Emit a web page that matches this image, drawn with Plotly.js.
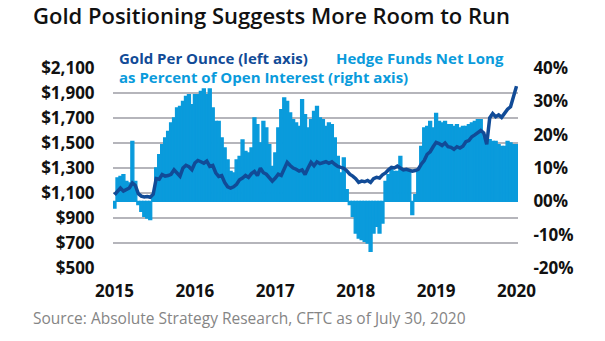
<!DOCTYPE html>
<html>
<head>
<meta charset="utf-8">
<script src="https://cdn.plot.ly/plotly-3.0.1.min.js"></script>
<style>
  html, body { margin: 0; padding: 0; background: #ffffff; }
  #chart { width: 605px; height: 341px; }
</style>
</head>
<body>
<div id="chart"></div>
<script>
// Hedge funds net long as % of open interest (right axis)
const hedgeFundsNetLongPct = [
  -2, 7, 7.5, 8, 6, 5.5, 18, 6, -1, -3,
  -4.5, -5, -5.5, 2, 10, 14, 17, 19, 21, 23.5,
  25, 28, 28.5, 30, 31.5, 32, 29, 32, 32, 33,
  33.7, 32, 33.7, 28, 24, 24, 19, 16, 12.4, 9,
  8.5, 12.4, 13.5, 18.4, 15, 14.5, 16, 25, 23, 17.5,
  24, 22, 17, 10.5, 14.5, 22, 27.5, 31, 30, 26.5,
  24.5, 23.5, 22.5, 30.5, 26, 22, 24.5, 27, 28.5, 25,
  24.5, 22.5, 23.5, 23, 19, 13.5, 8.5, 13, 3.5, -1,
  -4.5, -9.5, -11, -11.5, -12, -12.5, -15, -9.5, -7.5, -9.5,
  -6.5, 6, 8, 9.5, 9, 9, 13.5, 9.5, 9, 9,
  -4, 2, 9, 16.5, 22, 22.5, 24, 22, 26.4, 24,
  23.5, 24, 23, 23, 22.5, 23, 22, 22.5, 22.5, 23,
  23.5, 24, 24.5, 24.5, 19, 18, 18.5, 18, 18, 17,
  16.5, 16.5, 18, 17.5, 17, 17
];

// Gold price per ounce, USD (left axis)
const goldPerOunce = [
  1086, 1113, 1140, 1115, 1125, 1140, 1180, 1160, 1095, 1075,
  1068, 1072, 1066, 1090, 1215, 1210, 1248, 1235, 1240, 1250,
  1285, 1262, 1235, 1300, 1322, 1310, 1286, 1340, 1360, 1350,
  1338, 1355, 1313, 1320, 1262, 1233, 1240, 1185, 1150, 1140,
  1150, 1170, 1205, 1220, 1240, 1225, 1255, 1272, 1240, 1298,
  1262, 1250, 1225, 1195, 1220, 1250, 1240, 1300, 1345, 1320,
  1300, 1290, 1275, 1285, 1248, 1300, 1345, 1318, 1350, 1335,
  1340, 1350, 1338, 1350, 1330, 1313, 1305, 1298, 1278, 1250,
  1235, 1215, 1185, 1195, 1190, 1200, 1185, 1215, 1225, 1220,
  1245, 1260, 1285, 1305, 1300, 1315, 1300, 1285, 1290, 1280,
  1275, 1280, 1290, 1330, 1360, 1410, 1430, 1470, 1505, 1495,
  1480, 1500, 1470, 1465, 1450, 1470, 1460, 1475, 1510, 1520,
  1550, 1565, 1580, 1600, 1580, 1490, 1700, 1735, 1710, 1725,
  1705, 1740, 1770, 1790, 1870, 1955
];

const yearLabels = ['2015', '2016', '2017', '2018', '2019', '2020'];
const yearValues = [2015, 2016, 2017, 2018, 2019, 2020];
const pctTickValues = [-20, -10, 0, 10, 20, 30, 40];
const pctTickLabels = ['-20%', '-10%', '00%', '10%', '20%', '30%', '40%'];

const N = goldPerOunce.length;
const step = (yearValues[yearValues.length - 1] - yearValues[0]) / (N - 1);
const xPos = goldPerOunce.map((_, i) => yearValues[0] + i * step);

const LIGHT = '#0a9bdc';
const DARK = '#114b97';
const tickFont = { family: 'Open Sans, sans-serif', size: 17, color: '#111111', weight: 700 };

const traces = [
  {
    type: 'bar',
    x: xPos,
    y: hedgeFundsNetLongPct,
    yaxis: 'y',
    marker: { color: LIGHT, line: { color: LIGHT, width: 1.3 } },
    width: step,
    hoverinfo: 'skip',
    showlegend: false
  },
  {
    type: 'scatter',
    mode: 'lines',
    x: xPos,
    y: goldPerOunce,
    yaxis: 'y2',
    line: { color: DARK, width: 3.5 },
    hoverinfo: 'skip',
    showlegend: false
  }
];

const layout = {
  width: 605,
  height: 341,
  margin: { l: 113, r: 87, t: 68, b: 73 },
  paper_bgcolor: '#ffffff',
  plot_bgcolor: '#ffffff',
  bargap: 0,
  title: {
    text: 'Gold Positioning Suggests More Room to Run',
    x: 33 / 605, xanchor: 'left', xref: 'container',
    y: 1 - 9 / 341, yanchor: 'top', yref: 'container',
    font: { family: 'Open Sans, sans-serif', size: 22, color: '#111111', weight: 600 }
  },
  xaxis: {
    range: [yearValues[0] - step / 2, yearValues[yearValues.length - 1] + step / 2],
    tickvals: yearValues,
    ticktext: yearLabels,
    showgrid: false,
    zeroline: false,
    showline: false,
    ticks: 'outside',
    ticklen: 8,
    tickcolor: 'rgba(0,0,0,0)',
    tickfont: tickFont,
    fixedrange: true
  },
  yaxis: {
    side: 'right',
    range: [-20, 40],
    tickvals: pctTickValues,
    ticktext: pctTickLabels,
    showgrid: false,
    zeroline: false,
    showline: false,
    ticks: 'outside',
    ticklen: 11,
    tickcolor: 'rgba(0,0,0,0)',
    tickfont: tickFont,
    fixedrange: true
  },
  yaxis2: {
    overlaying: 'y',
    side: 'left',
    range: [500, 2100],
    dtick: 200,
    tick0: 500,
    tickprefix: '$',
    tickformat: ',d',
    showgrid: true,
    gridcolor: '#b5b5bb',
    gridwidth: 1.5,
    zeroline: false,
    showline: false,
    ticks: 'outside',
    ticklen: 14,
    tickcolor: 'rgba(0,0,0,0)',
    tickfont: tickFont,
    fixedrange: true
  },
  annotations: [
    {
      text: 'Gold Per Ounce (left axis)',
      xref: 'paper', yref: 'paper', x: (117 - 113) / 405, y: (268 - 58) / 200,
      xanchor: 'left', yanchor: 'middle', showarrow: false,
      font: { family: 'Open Sans, sans-serif', size: 15, color: DARK, weight: 700 }
    },
    {
      text: 'Hedge Funds Net Long',
      xref: 'paper', yref: 'paper', x: (334 - 113) / 405, y: (268 - 58) / 200,
      xanchor: 'left', yanchor: 'middle', showarrow: false,
      font: { family: 'Open Sans, sans-serif', size: 15, color: LIGHT, weight: 700 }
    },
    {
      text: 'as Percent of Open Interest (right axis)',
      xref: 'paper', yref: 'paper', x: (117 - 113) / 405, y: (268 - 77) / 200,
      xanchor: 'left', yanchor: 'middle', showarrow: false,
      font: { family: 'Open Sans, sans-serif', size: 15, color: LIGHT, weight: 700 }
    },
    {
      text: 'Source: Absolute Strategy Research, CFTC as of July 30, 2020',
      xref: 'paper', yref: 'paper', x: (31 - 113) / 405, y: (268 - 318) / 200,
      xanchor: 'left', yanchor: 'middle', showarrow: false,
      font: { family: 'Open Sans, sans-serif', size: 15.5, color: '#858585', weight: 400 }
    }
  ]
};

Plotly.newPlot('chart', traces, layout, { staticPlot: true, displayModeBar: false });
</script>
</body>
</html>
